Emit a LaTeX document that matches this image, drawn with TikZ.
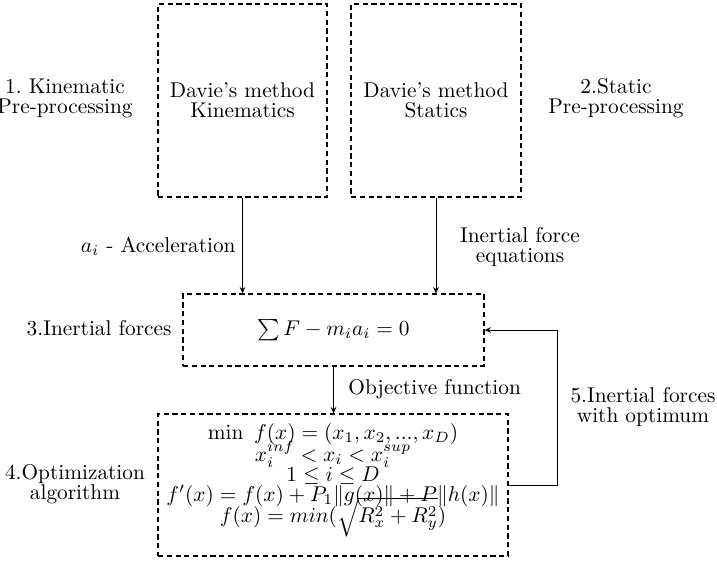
\documentclass[tikz,border=0pt]{standalone}
\usetikzlibrary{arrows.meta}
\newcommand{\tightlines}{\lineskiplimit-20pt\relax}
\begin{document}
\begin{tikzpicture}[x=0.4686pt,y=-0.4686pt,
  box/.style={draw, dash pattern=on 2.4pt off 1.7pt, line width=0.5pt, inner sep=0pt,
    align=center, font=\fontsize{10}{9.3}\selectfont},
  arr/.style={-{Stealth[length=3pt,width=2.6pt]}, line width=0.45pt},
  lbl/.style={align=center, inner sep=0pt, font=\fontsize{10}{9.3}\selectfont},
  frm/.style={align=center, inner sep=0pt, font={\fontsize{10}{9.4}\selectfont\tightlines}}]
\useasboundingbox (0,0) rectangle (717,565);
% boxes
\node[box, minimum width=169*0.4686pt, minimum height=193*0.4686pt] (K) at (242.5,100.5) {Davie's method\\Kinematics};
\node[box, minimum width=170*0.4686pt, minimum height=193*0.4686pt] (S) at (436,100.5) {Davie's method\\Statics};
\node[box, minimum width=301*0.4686pt, minimum height=72*0.4686pt] (IF) at (333.5,330) {$\sum F - m_i a_i = 0$};
\node[box, minimum width=350*0.4686pt, minimum height=142*0.4686pt] (OPT) at (333,485) {};
\node[frm] (OPTt) at (333,480) {$\min\ f(x) = (x_1, x_2, ..., x_D)$\\[1pt]
  $x_i^{inf} < x_i < x_i^{sup}$\\[0pt]
  $1 \leq i \leq D$\\[-0.1pt]
  $f'(x) = f(x) + P_1\|g(x)\| + P\|h(x)\|$\\[0.4pt]
  $f(x) = min(\sqrt{R_x^2 + R_y^2})$};
% side labels
\node[lbl] (L1) at (65,98) {1.\ Kinematic\\Pre-processing};
\node[lbl] (L2) at (616,98) {2.Static\\Pre-processing};
\node[lbl, anchor=east] (L3) at (172,328) {3.Inertial forces};
\node[lbl] (L4) at (75,484) {4.Optimization\\algorithm};
\node[lbl] (L5) at (643,407) {5.Inertial forces\\with optimum};
% connector labels
\node[lbl, anchor=east] (La) at (236,246) {$a_i$ - Acceleration};
\node[lbl] (Lb) at (520,247) {Inertial force\\equations};
\node[lbl, anchor=west] (Lc) at (348,389) {Objective function};
% connectors
\draw[arr] (K.south) -- (K.south |- IF.north);
\draw[arr] (S.south) -- (S.south |- IF.north);
\draw[arr] (IF.south) -- (IF.south |- OPT.north);
\draw[arr] (OPT.east) -- ++(49,0) |- (IF.east);
\end{tikzpicture}
\end{document}
